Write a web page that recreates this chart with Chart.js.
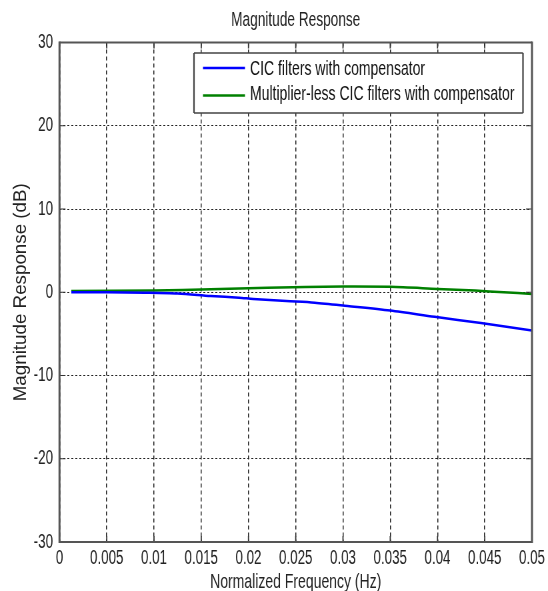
<!DOCTYPE html>
<html>
<head>
<meta charset="utf-8">
<script src="https://cdn.jsdelivr.net/npm/chart.js@4/dist/chart.umd.min.js"></script>
<style>
  html, body { margin: 0; padding: 0; background: #fff; }
  #wrap { width: 548px; height: 591px; overflow: hidden; }
  #c { display: block; }
</style>
</head>
<body>
<div id="wrap"><canvas id="c"></canvas></div>
<script>
// ---- data ----
const chartTitle = 'Magnitude Response';
const xTitle = 'Normalized Frequency (Hz)';
const yTitle = 'Magnitude Response (dB)';
const seriesNames = ['CIC filters with compensator', 'Multiplier-less CIC filters with compensator'];

const xTickValues = [0, 0.005, 0.01, 0.015, 0.02, 0.025, 0.03, 0.035, 0.04, 0.045, 0.05];
const xTickLabels = ['0', '0.005', '0.01', '0.015', '0.02', '0.025', '0.03', '0.035', '0.04', '0.045', '0.05'];
const yTickValues = [-30, -20, -10, 0, 10, 20, 30];
const yTickLabels = ['-30', '-20', '-10', '0', '10', '20', '30'];

const cicFreq = [0.00125, 0.005, 0.009, 0.0125, 0.016, 0.019, 0.0205, 0.024, 0.027, 0.0305, 0.035, 0.0397, 0.0446, 0.05];
const cicMag  = [0, 0, -0.05, -0.15, -0.45, -0.65, -0.8, -1.05, -1.25, -1.65, -2.2, -2.95, -3.7, -4.6];

const mlFreq = [0.00125, 0.01, 0.016, 0.022, 0.03, 0.035, 0.04, 0.044, 0.047, 0.05];
const mlMag  = [0.15, 0.2, 0.35, 0.55, 0.7, 0.65, 0.4, 0.2, 0.0, -0.2];

// ---- layout helpers ----
// The canvas is drawn wider and shown at 548px, giving the condensed text look of the original.
const SX = 1.5;
const W = 548, H = 591;
const canvas = document.getElementById('c');
canvas.width = Math.round(W * SX);
canvas.height = H;
canvas.style.width = W + 'px';
canvas.style.height = H + 'px';

const FONT = "'Liberation Sans', Arial, Helvetica, sans-serif";
const toPts = (xs, ys) => xs.map((x, i) => ({ x: x, y: ys[i] }));

// inner tick marks (MATLAB style), axes box, y title and legend
const boxPlugin = {
  id: 'boxPlugin',
  afterDatasetsDraw(chart) {
    const { ctx, chartArea: a, scales } = chart;
    ctx.save();
    ctx.strokeStyle = '#333';
    ctx.setLineDash([]);
    const tl = 6;
    scales.x.ticks.forEach(t => {
      const px = scales.x.getPixelForValue(t.value);
      ctx.lineWidth = 1.2 * SX;
      ctx.beginPath();
      ctx.moveTo(px, a.top); ctx.lineTo(px, a.top + tl);
      ctx.moveTo(px, a.bottom); ctx.lineTo(px, a.bottom - tl);
      ctx.stroke();
    });
    scales.y.ticks.forEach(t => {
      const py = scales.y.getPixelForValue(t.value);
      ctx.lineWidth = 1.2;
      ctx.beginPath();
      ctx.moveTo(a.left, py); ctx.lineTo(a.left + tl * SX, py);
      ctx.moveTo(a.right, py); ctx.lineTo(a.right - tl * SX, py);
      ctx.stroke();
    });
    // axes box
    ctx.strokeStyle = '#555';
    ctx.lineWidth = 2;
    ctx.beginPath();
    ctx.moveTo(a.left, a.top); ctx.lineTo(a.right, a.top);
    ctx.moveTo(a.left, a.bottom); ctx.lineTo(a.right, a.bottom);
    ctx.stroke();
    ctx.lineWidth = 2 * SX;
    ctx.beginPath();
    ctx.moveTo(a.left, a.top - 1); ctx.lineTo(a.left, a.bottom + 1);
    ctx.moveTo(a.right, a.top - 1); ctx.lineTo(a.right, a.bottom + 1);
    ctx.stroke();

    // y axis title (drawn unstretched)
    ctx.save();
    ctx.translate(21 * SX, (a.top + a.bottom) / 2);
    ctx.scale(SX, 1);
    ctx.rotate(-Math.PI / 2);
    ctx.fillStyle = '#222';
    ctx.font = '18.8px ' + FONT;
    ctx.textAlign = 'center';
    ctx.textBaseline = 'middle';
    ctx.fillText(yTitle, 0, 0);
    ctx.restore();

    // legend box
    const lx = 194 * SX, ly = 53, lw = 329 * SX, lh = 60;
    ctx.fillStyle = '#fff';
    ctx.fillRect(lx, ly, lw, lh);
    ctx.strokeStyle = '#444';
    ctx.lineWidth = 1.5;
    ctx.beginPath();
    ctx.moveTo(lx, ly); ctx.lineTo(lx + lw, ly);
    ctx.moveTo(lx, ly + lh); ctx.lineTo(lx + lw, ly + lh);
    ctx.stroke();
    ctx.lineWidth = 1.5 * SX;
    ctx.beginPath();
    ctx.moveTo(lx, ly); ctx.lineTo(lx, ly + lh);
    ctx.moveTo(lx + lw, ly); ctx.lineTo(lx + lw, ly + lh);
    ctx.stroke();
    const lineRows = [68, 95.5];
    const textRows = [69.5, 94];
    chart.data.datasets.forEach((ds, i) => {
      ctx.strokeStyle = ds.borderColor;
      ctx.lineWidth = 2.5;
      ctx.beginPath();
      ctx.moveTo(203 * SX, lineRows[i]); ctx.lineTo(245 * SX, lineRows[i]);
      ctx.stroke();
      ctx.fillStyle = '#111';
      ctx.font = '21px ' + FONT;
      ctx.textBaseline = 'middle';
      ctx.textAlign = 'left';
      ctx.fillText(ds.label, 250 * SX, textRows[i]);
    });
    ctx.restore();
  }
};

new Chart(canvas, {
  type: 'line',
  data: {
    datasets: [
      { label: seriesNames[0], data: toPts(cicFreq, cicMag), borderColor: '#0000ff', borderWidth: 2.5, pointRadius: 0, tension: 0.3, fill: false },
      { label: seriesNames[1], data: toPts(mlFreq, mlMag), borderColor: '#008000', borderWidth: 2.5, pointRadius: 0, tension: 0.3, fill: false }
    ]
  },
  options: {
    responsive: false,
    animation: false,
    devicePixelRatio: 1,
    layout: { padding: { left: 0, right: 16 * SX, top: 0, bottom: 0 } },
    plugins: {
      legend: { display: false },
      tooltip: { enabled: false },
      title: {
        display: true,
        fullSize: false,
        text: chartTitle,
        color: '#222',
        font: { family: FONT, size: 20.5, weight: 'normal' },
        padding: { top: 8.3, bottom: 9.6 }
      }
    },
    scales: {
      x: {
        type: 'linear',
        min: 0, max: 0.05,
        afterBuildTicks(scale) { scale.ticks = xTickValues.map(v => ({ value: v })); },
        afterFit(scale) { scale.height = 49; },
        ticks: {
          callback: (v) => { const i = xTickValues.findIndex(t => Math.abs(t - v) < 1e-9); return i >= 0 ? xTickLabels[i] : ''; },
          color: '#222',
          font: { family: FONT, size: 20 },
          padding: 4.5,
          maxRotation: 0,
          autoSkip: false
        },
        grid: { color: '#222', lineWidth: 1.5, drawTicks: false, tickLength: 0 },
        border: { display: false, dash: [4, 3] },
        title: { display: true, text: xTitle, color: '#222', font: { family: FONT, size: 21 }, padding: { top: 0, bottom: -4 } }
      },
      y: {
        type: 'linear',
        min: -30, max: 30,
        afterBuildTicks(scale) { scale.ticks = yTickValues.map(v => ({ value: v })); },
        afterFit(scale) { scale.width = 59.5 * SX; },
        ticks: {
          callback: (v) => { const i = yTickValues.indexOf(v); return i >= 0 ? yTickLabels[i] : ''; },
          color: '#222',
          font: { family: FONT, size: 20 },
          padding: 6.5 * SX,
          autoSkip: false
        },
        grid: { color: '#222', lineWidth: 1, drawTicks: false, tickLength: 0 },
        border: { display: false, dash: [3, 3] },
        title: { display: false, text: yTitle }
      }
    }
  },
  plugins: [boxPlugin]
});
</script>
</body>
</html>
